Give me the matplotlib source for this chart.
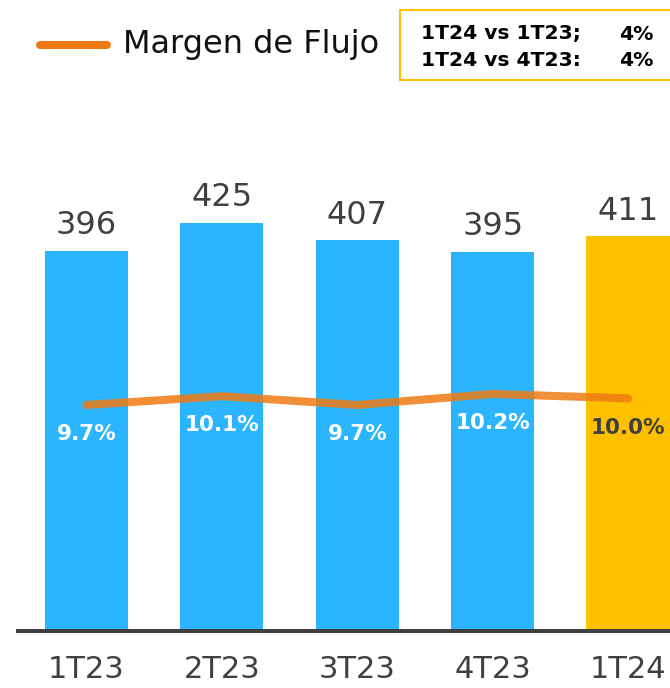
import matplotlib
matplotlib.use("Agg")
import matplotlib.pyplot as plt
from matplotlib.lines import Line2D
from matplotlib.patches import Rectangle

plt.rcParams['font.family'] = ['DejaVu Sans']

categories = ["1T23", "2T23", "3T23", "4T23", "1T24"]
flujo = [396, 425, 407, 395, 411]
margen = [9.7, 10.1, 9.7, 10.2, 10.0]
margen_labels = ["9.7%", "10.1%", "9.7%", "10.2%", "10.0%"]
legend_label = "Margen de Flujo"
box_lines = [("1T24 vs 1T23;", "4%"), ("1T24 vs 4T23:", "4%")]

BLUE = "#2BB5FE"
YELLOW = "#FFC000"
ORANGE = "#EE7B12"
DARK = "#404040"

W, H = 670, 688
fig = plt.figure(figsize=(W / 100, H / 100), dpi=100)

def fx(x):
    return x / W

def fy(y):
    return 1 - y / H

ax_left, ax_right, ax_bottom, ax_top = 18, 670, 631, 100
ax = fig.add_axes([fx(ax_left), fy(ax_bottom), fx(ax_right - ax_left), (ax_bottom - ax_top) / H])
x = list(range(len(categories)))
colors = [BLUE] * (len(categories) - 1) + [YELLOW]
ax.bar(x, flujo, width=0.614, color=colors, zorder=2)
ax.set_xlim(-0.506, 4.31)
ax.set_ylim(0, 553)
for xi, v in zip(x, flujo):
    ax.annotate(str(v), (xi, v), xytext=(0, 12), textcoords="offset points",
                ha="center", va="baseline", fontsize=23, color=DARK)
ax.set_xticks(x)
ax.set_xticklabels(categories, fontsize=22, color=DARK)
ax.tick_params(axis="x", length=0, pad=17)
ax.set_yticks([])
for s in ["top", "right", "left"]:
    ax.spines[s].set_visible(False)
ax.spines["bottom"].set_color(DARK)
ax.spines["bottom"].set_linewidth(2.9)
ax.spines["bottom"].set_zorder(3)

ax2 = ax.twinx()
ax2.set_ylim(-0.573, 23.56)
ax2.plot(x, margen, color=ORANGE, alpha=0.85, lw=5.8, solid_capstyle="round",
         solid_joinstyle="round", zorder=4)
ax2.set_yticks([])
for s in ax2.spines.values():
    s.set_visible(False)
for i, (xi, v, lab) in enumerate(zip(x, margen, margen_labels)):
    col = "white" if i < len(x) - 1 else DARK
    ax2.annotate(lab, (xi, v), xytext=(0, -21), textcoords="offset points",
                 ha="center", va="center", fontsize=15.5, fontweight="bold", color=col)

# legend
fig.add_artist(Line2D([fx(40), fx(107)], [fy(45), fy(45)], color=ORANGE, lw=5.8,
                      solid_capstyle="round", transform=fig.transFigure))
fig.text(fx(123), fy(44), legend_label, fontsize=23, color="#111111", va="center", ha="left")

# comparison box
fig.add_artist(Rectangle((fx(400), fy(80)), fx(290), (80 - 10) / H, transform=fig.transFigure,
                         facecolor="white", edgecolor=YELLOW, lw=1.5))
for (left, right), yy in zip(box_lines, [34, 61]):
    fig.text(fx(421), fy(yy), left, fontsize=14.6, fontweight="bold", color="black",
             va="center", ha="left")
    fig.text(fx(653), fy(yy), right, fontsize=14.6, fontweight="bold", color="black",
             va="center", ha="right")

fig.savefig("out.png", dpi=100)
